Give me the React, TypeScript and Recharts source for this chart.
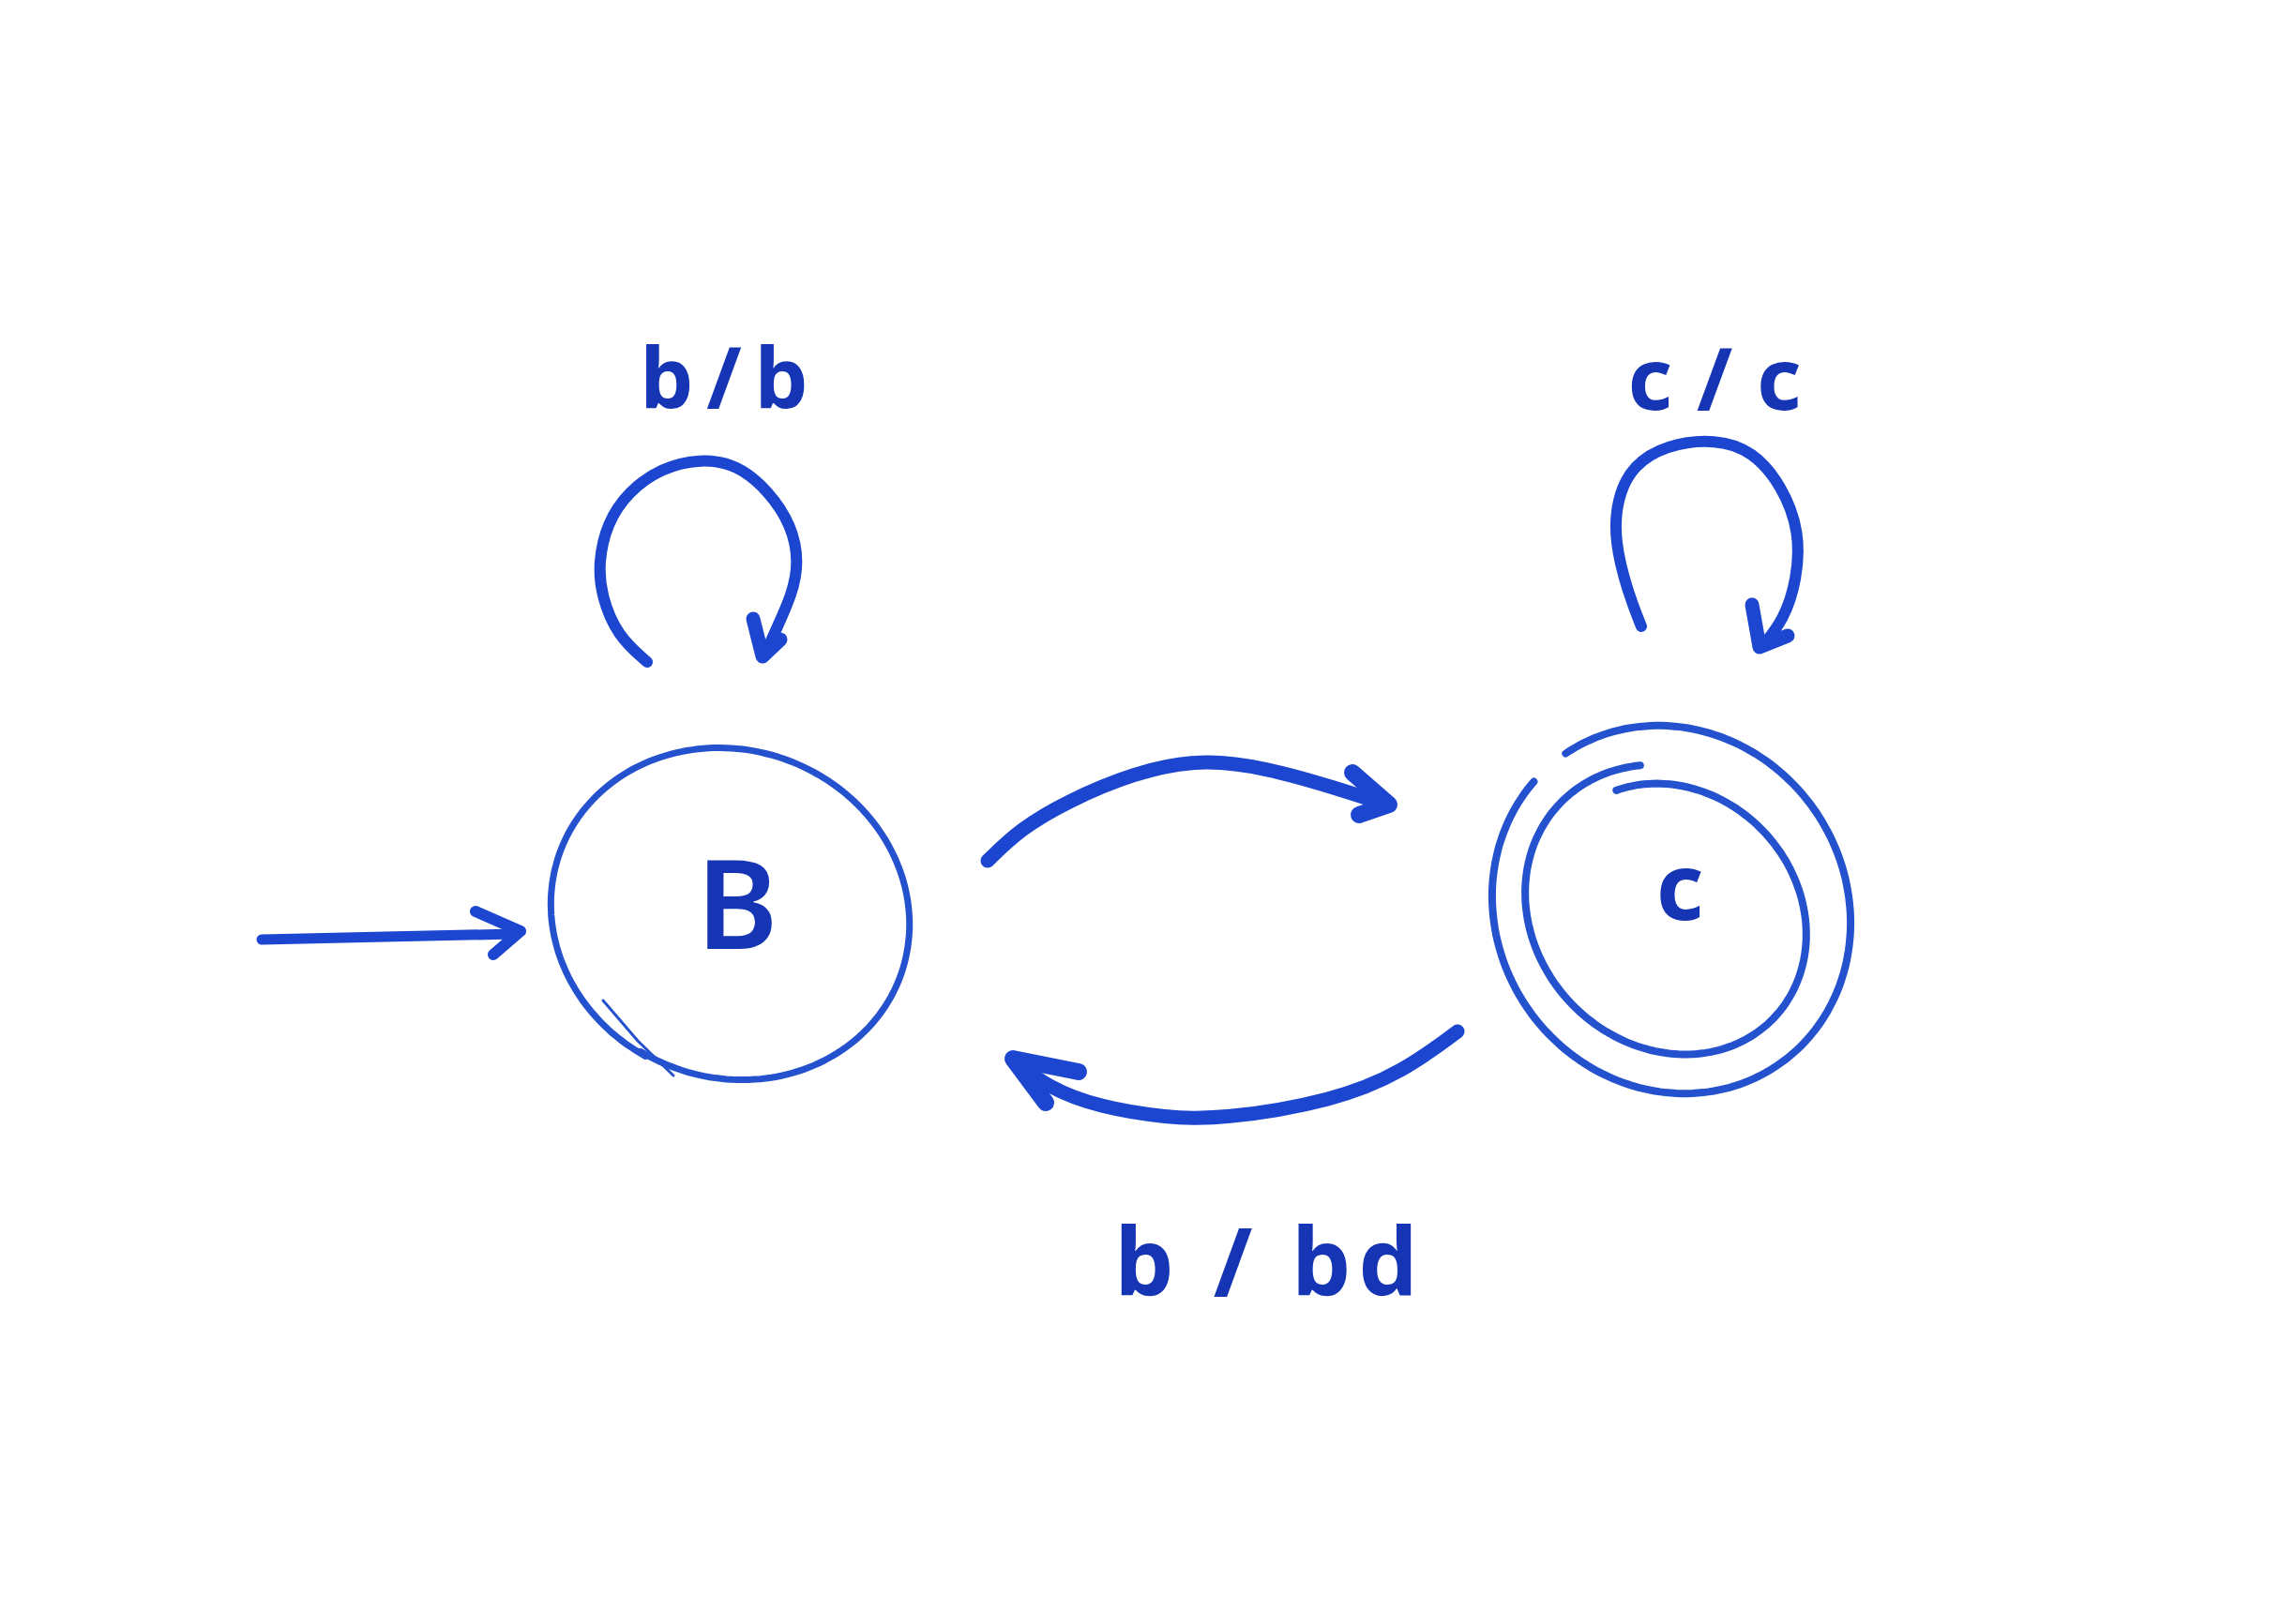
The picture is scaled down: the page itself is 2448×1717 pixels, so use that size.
import React from "react";
import { ComposedChart, Line, Scatter, XAxis, YAxis } from "recharts";

const W = 2448;
const H = 1717;

// pen colours
const INK = "#1c46cf";
const INK_DARK = "#1535b5";
const INK_RING = "#2451cd";

// states: centre, half axes, tilt of the drawn ellipse and the sweep of the pen stroke
const stateB = [{ x: 779, y: 975, rx: 194, ry: 176, tilt: 20, from: 100, to: 462, k0: 1.0, k1: 0.99 }];
const stateCOuter = [{ x: 1782, y: 970, rx: 201, ry: 186, tilt: 55, from: -179, to: 167, k0: 1.0, k1: 1.0 }];
const stateCInner = [{ x: 1781, y: 975, rx: 158, ry: 139, tilt: 45, from: -156, to: 217, k0: 0.93, k1: 1.07 }];

// small second stroke on the lower left of B
const bTail = [
  { x: 643, y: 1067 },
  { x: 680, y: 1110 },
  { x: 718, y: 1147 },
];

// initial arrow
const startArrow = [
  { x: 279, y: 1002 },
  { x: 548, y: 996 },
];
const startHead = [
  { x: 507, y: 972 },
  { x: 555, y: 993 },
  { x: 526, y: 1018 },
];

// self loop on B
const loopB = [
  { x: 690, y: 706 },
  { x: 658, y: 678 },
  { x: 641, y: 635 },
  { x: 638, y: 600 },
  { x: 647, y: 558 },
  { x: 670, y: 524 },
  { x: 705, y: 499 },
  { x: 747, y: 489 },
  { x: 786, y: 495 },
  { x: 820, y: 524 },
  { x: 844, y: 560 },
  { x: 852, y: 600 },
  { x: 844, y: 635 },
  { x: 829, y: 668 },
  { x: 815, y: 699 },
];
const loopBHead = [
  { x: 803, y: 660 },
  { x: 813, y: 700 },
  { x: 832, y: 682 },
];

// self loop on C
const loopC = [
  { x: 1750, y: 668 },
  { x: 1736, y: 633 },
  { x: 1721, y: 577 },
  { x: 1724, y: 531 },
  { x: 1741, y: 496 },
  { x: 1777, y: 474 },
  { x: 1830, y: 468 },
  { x: 1869, y: 481 },
  { x: 1900, y: 518 },
  { x: 1919, y: 567 },
  { x: 1916, y: 618 },
  { x: 1902, y: 661 },
  { x: 1879, y: 689 },
];
const loopCHead = [
  { x: 1868, y: 645 },
  { x: 1876, y: 690 },
  { x: 1906, y: 678 },
];

// B -> C
const edgeBC = [
  { x: 1053, y: 918 },
  { x: 1088, y: 884 },
  { x: 1137, y: 855 },
  { x: 1209, y: 824 },
  { x: 1280, y: 809 },
  { x: 1351, y: 819 },
  { x: 1423, y: 840 },
  { x: 1478, y: 858 },
];
const edgeBCHead = [
  { x: 1442, y: 824 },
  { x: 1481, y: 858 },
  { x: 1449, y: 869 },
];

// C -> B
const edgeCB = [
  { x: 1554, y: 1100 },
  { x: 1496, y: 1143 },
  { x: 1423, y: 1174 },
  { x: 1301, y: 1194 },
  { x: 1244, y: 1192 },
  { x: 1173, y: 1181 },
  { x: 1117, y: 1160 },
  { x: 1080, y: 1130 },
];
const edgeCBHead = [
  { x: 1150, y: 1143 },
  { x: 1080, y: 1129 },
  { x: 1115, y: 1176 },
];

// text
const labelBB = [{ x: 772, y: 435, text: "b/b" }];
const labelCC = [{ x: 1828, y: 437, text: "c/c" }];
const labelBBD = [{ x: 1350, y: 1382, text: "b / bd" }];
const nameB = [{ x: 786, y: 1012, text: "B" }];
const nameC = [{ x: 1791, y: 981, text: "c" }];

const ringShape = (stroke: string, width: number) => (props: any) => {
  const { cx, cy, payload } = props;
  const { rx, ry, tilt, from, to, k0, k1 } = payload;
  const t = (tilt * Math.PI) / 180;
  const n = 200;
  let d = "";
  for (let i = 0; i <= n; i++) {
    const f = i / n;
    const a = ((from + (to - from) * f) * Math.PI) / 180;
    const k = k0 + (k1 - k0) * f;
    const ex = rx * k * Math.cos(a);
    const ey = ry * k * Math.sin(a);
    const px = cx + ex * Math.cos(t) - ey * Math.sin(t);
    const py = cy + ex * Math.sin(t) + ey * Math.cos(t);
    d += (i ? "L" : "M") + px.toFixed(1) + "," + py.toFixed(1);
  }
  return <path d={d} fill="none" stroke={stroke} strokeWidth={width} strokeLinecap="round" />;
};

const textShape = (size: number, spacing: number, weight: number) => (props: any) => (
  <text
    x={props.cx + spacing / 2}
    y={props.cy}
    textAnchor="middle"
    fontFamily="'Noto Sans', sans-serif"
    fontSize={size}
    fontWeight={weight}
    letterSpacing={spacing}
    fill={INK_DARK}
  >
    {props.payload.text}
  </text>
);

const stroke = (data: { x: number; y: number }[], width: number, color = INK, type: any = "basis") => (
  <Line
    data={data}
    dataKey="y"
    type={type}
    stroke={color}
    strokeWidth={width}
    strokeLinecap="round"
    strokeLinejoin="round"
    dot={false}
    activeDot={false}
    isAnimationActive={false}
  />
);

export default function App() {
  return (
    <div style={{ position: "absolute", left: 0, top: 0, width: W, height: H, background: "#fff" }}>
      <ComposedChart width={W} height={H} margin={{ top: 0, right: 0, bottom: 0, left: 0 }}>
        <XAxis type="number" dataKey="x" domain={[0, W]} hide allowDataOverflow />
        <YAxis type="number" dataKey="y" domain={[0, H]} reversed hide allowDataOverflow />

        {/* states */}
        <Scatter data={stateB} shape={ringShape(INK_RING, 7)} isAnimationActive={false} />
        <Scatter data={stateCOuter} shape={ringShape(INK_RING, 8)} isAnimationActive={false} />
        <Scatter data={stateCInner} shape={ringShape(INK_RING, 8)} isAnimationActive={false} />
        {stroke(bTail, 3, INK_RING, "linear")}

        {/* start arrow */}
        {stroke(startArrow, 11, INK, "linear")}
        {stroke(startHead, 12, INK, "linear")}

        {/* loops */}
        {stroke(loopB, 12)}
        {stroke(loopBHead, 15, INK, "linear")}
        {stroke(loopC, 12)}
        {stroke(loopCHead, 15, INK, "linear")}

        {/* transitions between the states */}
        {stroke(edgeBC, 15)}
        {stroke(edgeBCHead, 18, INK, "linear")}
        {stroke(edgeCB, 15)}
        {stroke(edgeCBHead, 18, INK, "linear")}

        {/* labels */}
        <Scatter data={labelBB} shape={textShape(90, 14, 700)} isAnimationActive={false} />
        <Scatter data={labelCC} shape={textShape(92, 26, 700)} isAnimationActive={false} />
        <Scatter data={labelBBD} shape={textShape(100, 8, 700)} isAnimationActive={false} />
        <Scatter data={nameB} shape={textShape(132, 0, 600)} isAnimationActive={false} />
        <Scatter data={nameC} shape={textShape(98, 0, 700)} isAnimationActive={false} />
      </ComposedChart>
    </div>
  );
}
